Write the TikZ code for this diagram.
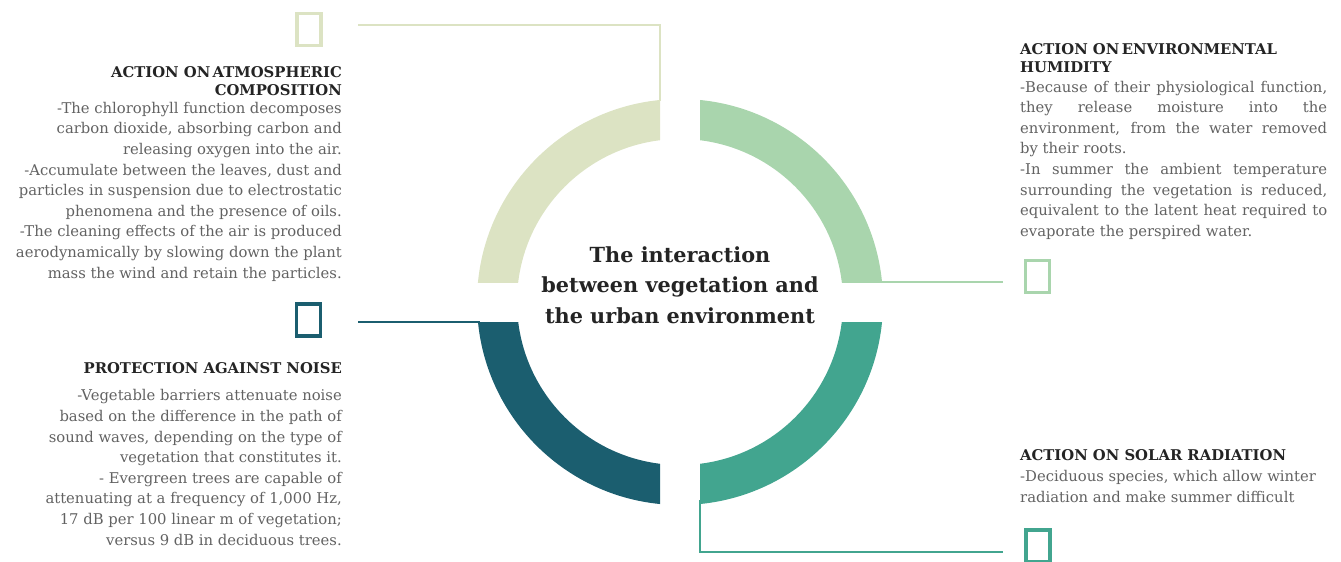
\documentclass[tikz,border=0pt]{standalone}
\usepackage{fontspec}
\setmainfont{DejaVu Serif}
\usetikzlibrary{positioning}

\definecolor{sage}{RGB}{220,227,195}
\definecolor{mint}{RGB}{169,213,173}
\definecolor{jade}{RGB}{66,165,143}
\definecolor{petrol}{RGB}{27,94,111}
\definecolor{bodygray}{RGB}{98,98,98}
\definecolor{headgray}{RGB}{36,36,36}

\tikzset{
  icon/.style  = {rectangle, draw, line width=3.5pt, minimum width=24pt,
                  minimum height=32pt, inner sep=0pt},
  link/.style  = {line width=1.8pt},
  head/.style  = {inner sep=0pt, text=headgray,
                  font=\bfseries\fontsize{14.8}{18}\selectfont},
  txt/.style   = {inner sep=0pt, text=bodygray,
                  font=\fontsize{14.8}{20.6}\selectfont},
  title/.style = {inner sep=0pt, text=headgray, align=center,
                  font=\bfseries\fontsize{20.8}{30.5}\selectfont},
}

\begin{document}
\begin{tikzpicture}[x=1pt, y=-1pt]
  \useasboundingbox (0,0) rectangle (1341,562);

  % ring, cut into four quarters
  \foreach \col/\xa/\ya/\xb/\yb in {sage/0/0/660/282, mint/700/0/1341/282,
                                    jade/700/322/1341/562, petrol/0/322/660/562} {
    \begin{scope}
      \clip (\xa,\ya) rectangle (\xb,\yb);
      \fill[\col, even odd rule] (680,302) circle (203) circle (163);
    \end{scope}
  }

  % base = baseline of the last line
  \node[title, anchor=base] (hub) at (680,323)
    {The interaction\\ between vegetation and\\ the urban environment};

  % icons
  \node[icon, draw=sage]   (atmoIcon)  at (309,29.5) {};
  \node[icon, draw=petrol] (noiseIcon) at (308.5,320) {};
  \node[icon, draw=mint]   (humIcon)   at (1037.5,276.5) {};
  \node[icon, draw=jade]   (solarIcon) at (1038,546) {};

  % connectors
  \coordinate (atmoEnd)  at (358,25);
  \coordinate (atmoArc)  at (660,101);
  \coordinate (noiseEnd) at (358,322);
  \coordinate (noiseArc) at (480,322);
  \coordinate (humArc)   at (880,282);
  \coordinate (humEnd)   at (1003,282);
  \coordinate (solarArc) at (700,500);
  \coordinate (solarEnd) at (1003,552);

  \draw[link, sage]   (atmoEnd) -| (atmoArc);
  \draw[link, petrol] (noiseEnd) -- (noiseArc);
  \draw[link, mint]   (humArc) -- (humEnd);
  \draw[link, jade]   (solarArc) |- (solarEnd);

  % left column
  \node[head, align=right, anchor=base east] (atmoHead) at (342,95)
    {ACTION ON\,ATMOSPHERIC\\ COMPOSITION};
  \node[txt, align=right, anchor=base east] (atmoText) at (342,278) {
    -The chlorophyll function decomposes\\
    carbon dioxide, absorbing carbon and\\
    releasing oxygen into the air.\\
    -Accumulate between the leaves, dust and\\
    particles in suspension due to electrostatic\\
    phenomena and the presence of oils.\\
    -The cleaning effects of the air is produced\\
    aerodynamically by slowing down the plant\\
    mass the wind and retain the particles.};

  \node[head, align=right, anchor=base east] (noiseHead) at (342,373)
    {PROTECTION AGAINST NOISE};
  \node[txt, align=right, anchor=base east] (noiseText) at (342,545) {
    -Vegetable barriers attenuate noise\\
    based on the difference in the path of\\
    sound waves, depending on the type of\\
    vegetation that constitutes it.\\
    - Evergreen trees are capable of\\
    attenuating at a frequency of 1,000 Hz,\\
    17 dB per 100 linear m of vegetation;\\
    versus 9 dB in deciduous trees.};

  % right column
  \node[head, align=left, anchor=base west] (humHead) at (1020,72)
    {ACTION ON\,ENVIRONMENTAL\\ HUMIDITY};
  \node[txt, text width=307pt, align=justify, anchor=base west,
        execute at begin node={\tolerance=10000\relax\hyphenpenalty=10000\relax}]
    (humText) at (1020,92)
    {-Because of their physiological function,\linebreak
     they release moisture into the\linebreak
     environment, from the water removed\linebreak
     by their roots.\\
     -In summer the ambient temperature\linebreak
     surrounding the vegetation is reduced,\linebreak
     equivalent to the latent heat required to\linebreak
     evaporate the perspired water.};

  \node[head, align=left, anchor=base west] (solarHead) at (1020,460)
    {ACTION ON SOLAR RADIATION};
  \node[txt, align=left, anchor=base west] (solarText) at (1020,502)
    {-Deciduous species, which allow winter\\
     radiation and make summer difficult};
\end{tikzpicture}
\end{document}
